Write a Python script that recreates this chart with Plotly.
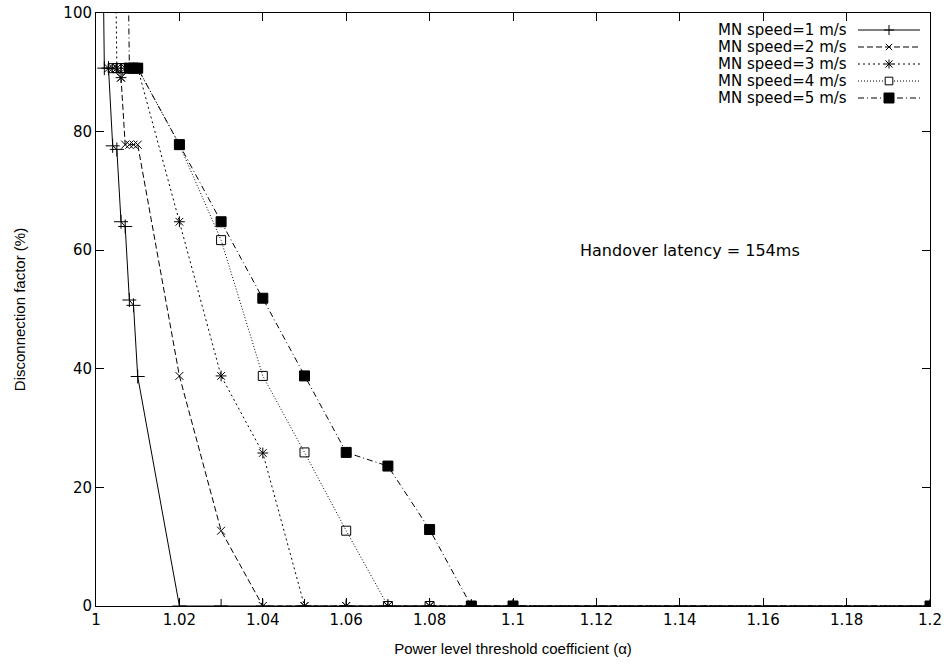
import plotly.graph_objects as go

# ---- data ----
x_s1 = [1.001, 1.002, 1.003, 1.004, 1.005, 1.006, 1.007, 1.008, 1.009, 1.010,
        1.02, 1.03, 1.04, 1.05, 1.06, 1.07, 1.08, 1.09, 1.10, 1.20]
y_s1 = [150, 90.7, 90.7, 77.6, 77.0, 64.8, 64.0, 51.6, 50.7, 38.7,
        0, 0, 0, 0, 0, 0, 0, 0, 0, 0]

x_s2 = [1.003, 1.004, 1.005, 1.006, 1.007, 1.008, 1.009, 1.010,
        1.02, 1.03, 1.04, 1.05, 1.06, 1.07, 1.08, 1.09, 1.10, 1.20]
y_s2 = [90.7, 90.7, 90.7, 89.1, 77.8, 77.8, 77.8, 77.8,
        38.8, 12.7, 0, 0, 0, 0, 0, 0, 0, 0]

x_s3 = [1.004, 1.005, 1.006, 1.007, 1.008, 1.009, 1.010,
        1.02, 1.03, 1.04, 1.05, 1.06, 1.07, 1.08, 1.09, 1.10, 1.20]
y_s3 = [150, 90.7, 89.1, 90.7, 90.7, 90.7, 90.7,
        64.8, 38.8, 25.8, 0, 0, 0, 0, 0, 0, 0]

x_s4 = [1.004, 1.005, 1.006, 1.007, 1.008, 1.009, 1.010,
        1.02, 1.03, 1.04, 1.05, 1.06, 1.07, 1.08, 1.09, 1.10, 1.20]
y_s4 = [90.7, 90.7, 90.7, 90.7, 90.7, 90.7, 90.7,
        77.8, 61.7, 38.8, 25.9, 12.7, 0, 0, 0, 0, 0]

x_s5 = [1.007, 1.008, 1.009, 1.010,
        1.02, 1.03, 1.04, 1.05, 1.06, 1.07, 1.08, 1.09, 1.10, 1.20]
y_s5 = [150, 90.7, 90.7, 90.7,
        77.8, 64.8, 51.9, 38.8, 25.9, 23.6, 12.9, 0, 0, 0]

series_names = ["MN speed=1 m/s", "MN speed=2 m/s", "MN speed=3 m/s",
                "MN speed=4 m/s", "MN speed=5 m/s"]

x_ticks = [1, 1.02, 1.04, 1.06, 1.08, 1.1, 1.12, 1.14, 1.16, 1.18, 1.2]
x_tick_labels = ["1", "1.02", "1.04", "1.06", "1.08", "1.1", "1.12", "1.14", "1.16", "1.18", "1.2"]
y_ticks = [0, 20, 40, 60, 80, 100]

annotation_text = "Handover latency = 154ms"
x_title = "Power level threshold coefficient (α)"
y_title = "Disconnection factor (%)"

# ---- layout constants (pixels) ----
W, H = 950, 668
ML, MR, MT, MB = 96, 20, 13, 62
PW, PH = W - ML - MR, H - MT - MB

TICK_FONT = "DejaVu Sans, Verdana, sans-serif"
TITLE_FONT = "Liberation Sans, Arial, sans-serif"

# ---- styles ----
styles = [
    dict(dash="solid", symbol="cross-thin", size=10),
    dict(dash="6px,3px", symbol="x-thin", size=8),
    dict(dash="2px,3px", symbol="asterisk", size=9),
    dict(dash="1px,2px", symbol="square-open", size=9),
    dict(dash="6px,3px,1px,3px", symbol="square", size=10),
]

xs = [x_s1, x_s2, x_s3, x_s4, x_s5]
ys = [y_s1, y_s2, y_s3, y_s4, y_s5]

fig = go.Figure()
for name, x, y, st in zip(series_names, xs, ys, styles):
    fig.add_trace(go.Scatter(
        x=x, y=y, name=name, mode="lines+markers", showlegend=False,
        line=dict(color="black", width=1, dash=st["dash"]),
        marker=dict(symbol=st["symbol"], size=st["size"], color="black",
                    line=dict(color="black", width=1)),
        cliponaxis=True,
    ))

# ---- custom gnuplot-style legend (text left, sample right) ----
def px(xp):
    return (xp - ML) / PW

def py(yp):
    return (H - MB - yp) / PH

shapes = []
annotations = []
leg_text_right = 849
leg_line_x0, leg_line_x1 = 858, 920
leg_mid = (leg_line_x0 + leg_line_x1) / 2
leg_row0, leg_dy = 30, 17
for i, (name, st) in enumerate(zip(series_names, styles)):
    yrow = leg_row0 + i * leg_dy
    annotations.append(dict(xref="paper", yref="paper", x=px(leg_text_right), y=py(yrow),
                            xanchor="right", yanchor="middle", text=name, showarrow=False,
                            font=dict(family=TICK_FONT, size=15, color="black")))
    shapes.append(dict(type="line", xref="paper", yref="paper",
                       x0=px(leg_line_x0), x1=px(leg_line_x1), y0=py(yrow), y1=py(yrow),
                       line=dict(color="black", width=1, dash=st["dash"])))
    h = st["size"] / 2
    sym = st["symbol"]
    segs = []
    if sym in ("cross-thin", "asterisk"):
        segs += [((leg_mid - h, yrow), (leg_mid + h, yrow)), ((leg_mid, yrow - h), (leg_mid, yrow + h))]
    if sym in ("x-thin", "asterisk"):
        d = h * 0.8
        segs += [((leg_mid - d, yrow - d), (leg_mid + d, yrow + d)),
                 ((leg_mid - d, yrow + d), (leg_mid + d, yrow - d))]
    for (a, b) in segs:
        shapes.append(dict(type="line", xref="paper", yref="paper",
                           x0=px(a[0]), y0=py(a[1]), x1=px(b[0]), y1=py(b[1]),
                           line=dict(color="black", width=1)))
    if sym in ("square-open", "square"):
        hh = h * 0.85 if sym == "square-open" else h
        shapes.append(dict(type="rect", xref="paper", yref="paper",
                           x0=px(leg_mid - hh), x1=px(leg_mid + hh),
                           y0=py(yrow - hh), y1=py(yrow + hh),
                           fillcolor="white" if sym == "square-open" else "black",
                           line=dict(color="black", width=1)))

annotations.append(dict(x=1.1425, y=60, xref="x", yref="y", text=annotation_text,
                        showarrow=False, font=dict(family=TICK_FONT, size=16, color="black")))

fig.update_layout(
    width=W, height=H,
    margin=dict(l=ML, r=MR, t=MT, b=MB, autoexpand=False),
    paper_bgcolor="white", plot_bgcolor="white",
    font=dict(family=TICK_FONT, size=15, color="black"),
    showlegend=False,
    shapes=shapes,
    annotations=annotations,
)

fig.update_xaxes(
    range=[1, 1.2], tickvals=x_ticks, ticktext=x_tick_labels, automargin=False,
    showgrid=False, zeroline=False, showline=True, linecolor="black", linewidth=1,
    mirror="ticks", ticks="inside", ticklen=8, tickcolor="black",
    tickfont=dict(family=TICK_FONT, size=15),
    title=dict(text=x_title, font=dict(family=TITLE_FONT, size=15), standoff=15),
)
fig.update_yaxes(
    range=[0, 100], tickvals=y_ticks, automargin=False,
    showgrid=False, zeroline=False, showline=True, linecolor="black", linewidth=1,
    mirror="ticks", ticks="inside", ticklen=8, tickcolor="black",
    tickfont=dict(family=TICK_FONT, size=15),
    title=dict(text=y_title, font=dict(family=TITLE_FONT, size=15), standoff=34),
)

fig.write_html("out.html", config={"displayModeBar": False},
               post_script="document.body.style.margin='0';")
